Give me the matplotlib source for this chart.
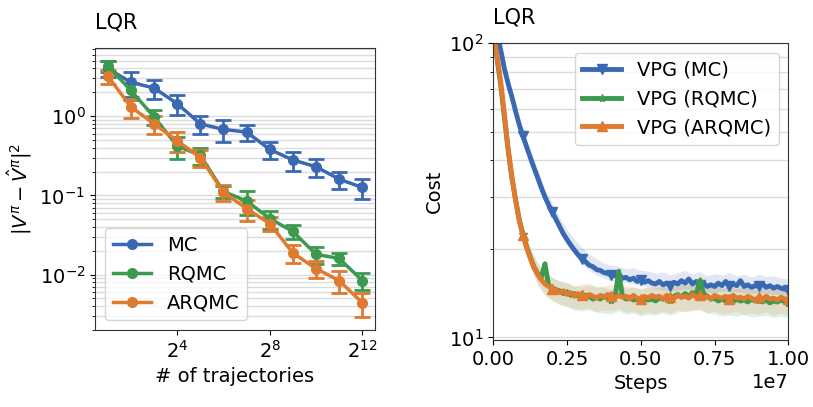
import numpy as np
import matplotlib.pyplot as plt
from matplotlib.ticker import FixedLocator, LogFormatterMathtext, NullLocator, NullFormatter

# ----- Datos: error de estimación vs número de trayectorias -----
n_traj = [2**k for k in range(1, 13)]

mc = [4.0, 2.67, 2.27, 1.44, 0.80, 0.68, 0.63, 0.38, 0.28, 0.23, 0.16, 0.126]
mc_err = [0.9, 0.9, 0.6, 0.4, 0.2, 0.21, 0.14, 0.09, 0.075, 0.058, 0.04, 0.036]

rqmc = [4.3, 2.11, 0.98, 0.42, 0.32, 0.112, 0.085, 0.051, 0.035, 0.018, 0.016, 0.0084]
rqmc_err = [0.7, 0.5, 0.2, 0.13, 0.075, 0.02, 0.028, 0.013, 0.007, 0.0045, 0.0027, 0.0021]

arqmc = [3.2, 1.31, 0.80, 0.49, 0.30, 0.11, 0.068, 0.044, 0.0187, 0.0119, 0.0084, 0.0044]
arqmc_err = [0.65, 0.36, 0.2, 0.14, 0.07, 0.025, 0.02, 0.009, 0.0048, 0.0029, 0.0026, 0.0015]

# ----- Datos: curvas de aprendizaje VPG (costo vs pasos) -----
steps = np.arange(81) * 0.125e6

vpg_mc = [125, 108, 95, 82, 73, 66, 59, 53, 48.5, 44.5,
          41, 37.8, 35, 32.3, 30, 28.2, 26.7, 25.2, 23.8, 22.5,
          21.5, 20.6, 19.8, 19.1, 18.5, 18.1, 17.6, 17.4, 17.0, 16.9,
          16.6, 16.5, 16.3, 16.2, 16.4, 15.9, 16.0, 15.7, 15.9, 15.5,
          15.7, 15.4, 15.6, 15.3, 15.2, 15.5, 15.1, 15.3, 15.0, 15.4,
          15.2, 15.6, 15.3, 15.8, 15.2, 15.5, 15.1, 15.3, 14.9, 15.1,
          14.9, 15.3, 15.0, 15.5, 14.9, 15.2, 15.0, 15.6, 14.9, 15.1,
          14.8, 15.0, 14.9, 15.2, 14.8, 15.0, 14.7, 14.9, 14.7, 14.6,
          14.5]

vpg_rqmc = [106, 89, 72, 56, 43.5, 35, 29.5, 25.3, 22.5, 20.4,
            18.8, 17.4, 16.5, 16.0, 17.8, 15.0, 14.7, 14.5, 14.4, 14.1,
            14.3, 13.9, 14.1, 13.8, 14.0, 13.6, 13.8, 13.5, 13.7, 13.5,
            13.8, 13.6, 13.4, 13.7, 16.8, 13.8, 13.5, 13.7, 13.4, 13.5,
            13.3, 13.6, 13.4, 13.5, 13.3, 13.6, 13.5, 13.7, 13.4, 13.8,
            14.0, 13.7, 14.1, 13.8, 14.2, 14.0, 15.6, 14.1, 13.8, 13.5,
            13.6, 13.3, 13.5, 13.3, 13.4, 13.2, 13.5, 13.3, 13.4, 13.2,
            13.5, 13.3, 13.4, 13.2, 13.4, 13.1, 13.3, 13.2, 13.4, 13.2,
            13.1]

vpg_arqmc = [108, 91, 74, 57.5, 44, 35.5, 29.5, 25, 22.3, 20.2,
             18.6, 17.3, 16.4, 15.7, 15.2, 14.9, 14.6, 14.5, 14.2, 14.4,
             14.0, 14.2, 13.8, 14.1, 13.9, 13.7, 14.0, 13.8, 13.6, 13.9,
             13.7, 14.0, 13.8, 13.6, 13.9, 13.7, 13.8, 13.5, 13.9, 13.6,
             13.5, 13.8, 13.6, 13.9, 13.7, 13.8, 13.5, 13.9, 13.7, 13.6,
             13.9, 13.7, 13.8, 13.6, 14.0, 13.7, 13.9, 13.6, 13.8, 13.5,
             13.9, 13.7, 13.6, 13.8, 13.5, 13.9, 13.6, 13.7, 13.5, 13.8,
             13.6, 13.4, 13.7, 13.5, 13.8, 13.5, 13.6, 13.4, 13.7, 13.5,
             13.5]

# Bandas de dispersión (malla más gruesa)
band_steps = np.arange(41) * 0.25e6

mc_lo = [120, 91, 70, 56.5, 46.5, 39.3, 33.6, 28.8, 25.6, 22.8, 20.6, 19.0, 17.8, 16.9,
         16.3, 15.9, 15.6, 15.5, 15.3, 15.2, 15.0, 14.9, 14.6, 14.5, 14.4, 14.5, 14.6,
         14.5, 14.4, 14.3, 14.2, 14.4, 14.3, 14.3, 14.2, 14.1, 14.2, 14.1, 14.0, 14.0, 13.9]
mc_hi = [131, 99, 76.5, 62, 51, 43.5, 37.2, 32, 28.5, 25.6, 23.3, 21.6, 20.2, 19.2,
         18.5, 17.9, 17.6, 17.5, 17.1, 17.3, 16.9, 16.8, 16.5, 16.7, 16.3, 16.6, 16.9,
         16.4, 16.7, 16.2, 16.5, 16.3, 16.6, 16.2, 16.4, 16.0, 16.4, 16.1, 16.2, 15.9, 15.8]

rqmc_lo = [102, 69, 41.5, 28, 21.2, 17.5, 15.2, 14.0, 13.4, 13.0, 12.8, 12.4, 12.3, 12.4,
           12.2, 12.1, 12.0, 12.3, 12.0, 12.1, 11.8, 12.0, 11.9, 12.1, 11.9, 12.2, 12.3,
           12.4, 12.5, 12.1, 12.0, 11.8, 11.9, 11.8, 12.0, 11.7, 11.8, 11.9, 11.7, 11.8, 11.6]
rqmc_hi = [110, 75, 45.5, 31, 23.8, 20.2, 17.9, 16.7, 16.0, 15.6, 15.3, 14.9, 14.9, 15.1,
           14.9, 14.8, 14.6, 15.2, 14.7, 14.8, 14.6, 14.8, 14.7, 14.9, 14.7, 15.1, 15.3,
           15.4, 15.5, 15.2, 15.0, 14.7, 14.8, 14.6, 14.9, 14.5, 14.6, 14.7, 14.5, 14.6, 14.4]

arqmc_lo = [104, 71, 42, 28, 21, 17.3, 15.1, 13.9, 13.3, 12.9, 12.7, 12.5, 12.5, 12.6,
            12.2, 12.4, 12.3, 12.5, 12.2, 12.3, 12.0, 12.2, 12.1, 12.3, 12.1, 12.4, 12.2,
            12.3, 12.4, 12.1, 12.3, 12.0, 12.1, 12.3, 11.9, 12.1, 12.0, 12.2, 11.9, 12.1, 11.9]
arqmc_hi = [112, 77, 46, 31, 23.7, 20.0, 17.8, 16.6, 16.0, 15.5, 15.4, 15.0, 15.2, 15.3,
            14.8, 15.0, 15.1, 15.2, 15.0, 14.9, 14.7, 14.9, 15.0, 15.1, 14.9, 15.2, 15.0,
            15.1, 15.2, 15.0, 15.1, 14.9, 14.8, 15.1, 14.7, 14.9, 14.9, 15.0, 14.8, 14.9, 14.7]

azul = '#3a69b4'
verde = '#3b9a4e'
naranja = '#e07a2e'

plt.rcParams['font.family'] = 'DejaVu Sans'
plt.rcParams['font.size'] = 14
plt.rcParams['axes.unicode_minus'] = False

fig = plt.figure(figsize=(8.13, 4.07), dpi=100)

# ----- Panel izquierdo -----
ax1 = fig.add_axes([0.1169, 0.1892, 0.3444, 0.6929])
estilo = dict(marker='o', markersize=7, linewidth=2.5, capsize=6, capthick=2, elinewidth=2)
e1 = ax1.errorbar(n_traj, mc, yerr=mc_err, color=azul, **estilo)
e2 = ax1.errorbar(n_traj, rqmc, yerr=rqmc_err, color=verde, **estilo)
e3 = ax1.errorbar(n_traj, arqmc, yerr=arqmc_err, color=naranja, **estilo)
ax1.set_xscale('log', base=2)
ax1.set_yscale('log')
ax1.xaxis.set_major_locator(FixedLocator([2**4, 2**8, 2**12]))
ax1.xaxis.set_major_formatter(LogFormatterMathtext(base=2))
ax1.xaxis.set_minor_locator(NullLocator())
ax1.grid(True, which='both', axis='y', color='#dcdcdc', linewidth=1)
ax1.set_axisbelow(True)
ax1.set_xlabel('# of trajectories')
ax1.set_ylabel(r'$|V^{\pi} - \hat{V}^{\pi}|^2$')
ax1.set_title('LQR', loc='left', fontsize=15, pad=14)
# leyenda solo con línea y marcador
ax1.legend([e1[0], e2[0], e3[0]], ['MC', 'RQMC', 'ARQMC'], loc='lower left', fontsize=14)

# ----- Panel derecho -----
ax2 = fig.add_axes([0.6068, 0.1646, 0.3629, 0.729])
ax2.fill_between(band_steps, mc_lo, mc_hi, color=azul, alpha=0.15, linewidth=0)
ax2.fill_between(band_steps, rqmc_lo, rqmc_hi, color=verde, alpha=0.15, linewidth=0)
ax2.fill_between(band_steps, arqmc_lo, arqmc_hi, color=naranja, alpha=0.15, linewidth=0)
ax2.plot(steps, vpg_mc, color=azul, linewidth=3.5, marker='v', markersize=7,
         markevery=(8, 8), label='VPG (MC)')
ax2.plot(steps, vpg_rqmc, color=verde, linewidth=3.5, marker='*', markersize=6,
         markevery=(8, 8), label='VPG (RQMC)')
ax2.plot(steps, vpg_arqmc, color=naranja, linewidth=3.5, marker='^', markersize=7,
         markevery=(8, 8), label='VPG (ARQMC)')
ax2.set_yscale('log')
ax2.set_xlim(0, 1e7)
ax2.set_ylim(9.8, 100)
ax2.set_xticks([0, 2.5e6, 5e6, 7.5e6, 1e7])
ax2.yaxis.set_minor_formatter(NullFormatter())
ax2.grid(True, which='both', axis='y', color='#dcdcdc', linewidth=1)
ax2.set_axisbelow(True)
ax2.set_xlabel('Steps')
ax2.set_ylabel('Cost')
ax2.set_title('LQR', loc='left', fontsize=15, pad=14)
ax2.legend(loc='upper right', fontsize=14)

for ax in (ax1, ax2):
    for s in ax.spines.values():
        s.set_color('#333333')

fig.savefig('out.png', dpi=100)
